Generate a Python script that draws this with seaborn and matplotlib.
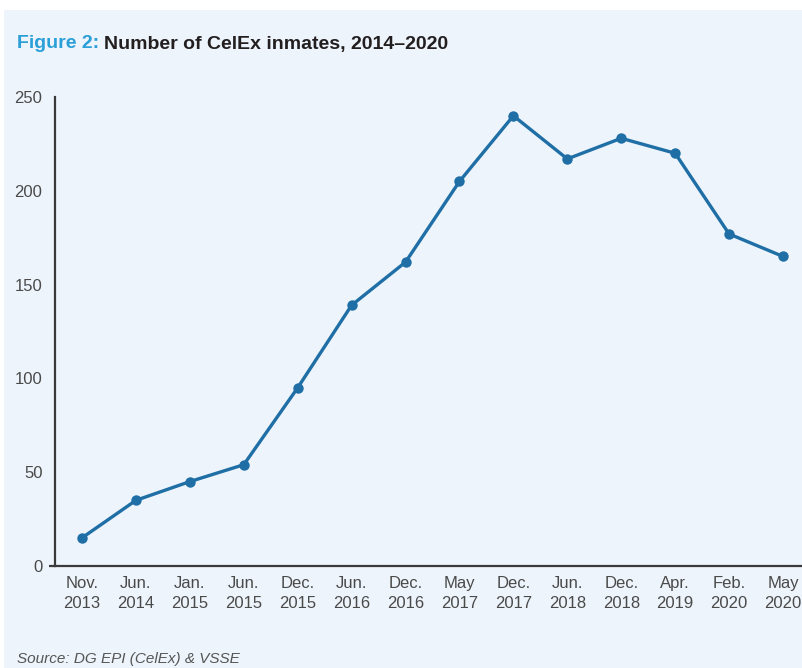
import numpy as np
import pandas as pd
import matplotlib
matplotlib.use("Agg")
import matplotlib.pyplot as plt
from matplotlib.patches import Rectangle
import seaborn as sns

months = ["Nov.", "Jun.", "Jan.", "Jun.", "Dec.", "Jun.", "Dec.", "May", "Dec.", "Jun.", "Dec.", "Apr.", "Feb.", "May"]
years = ["2013", "2014", "2015", "2015", "2015", "2016", "2016", "2017", "2017", "2018", "2018", "2019", "2020", "2020"]
inmates = [15, 35, 45, 54, 95, 139, 162, 205, 240, 217, 228, 220, 177, 165]
yticks = [0, 50, 100, 150, 200, 250]

labels = [f"{m}\n{y}" for m, y in zip(months, years)]
df = pd.DataFrame({"pos": np.arange(len(inmates)), "label": labels, "inmates": inmates})

sns.set_theme(style="white")
plt.rcParams["font.family"] = ["Liberation Sans", "DejaVu Sans"]

BG = "#edf4fb"
LINE = "#1f6fa6"
TXT = "#4a4a4a"

fig = plt.figure(figsize=(8.03, 6.68), dpi=100)
fig.patch.set_facecolor("white")
fig.add_artist(Rectangle((4 / 803, 0), 1, 1 - 10 / 668, transform=fig.transFigure,
                         facecolor=BG, edgecolor="none", zorder=-10))

ax_w = 1 - 55 / 803
ax = fig.add_axes([55 / 803, 1 - 566 / 668, ax_w, (566 - 97) / 668])
ax.set_facecolor("none")
sns.lineplot(data=df, x="pos", y="inmates", ax=ax, color=LINE, linewidth=2.4,
             marker="o", markersize=7.5, markeredgewidth=0, clip_on=False)

step = (783 - 82) / 13
ax.set_xlim(-27 / step, 13 + 20 / step)
ax.set_ylim(0, 250)
ax.set_xticks(df["pos"])
ax.set_xticklabels(df["label"], fontsize=12, color=TXT, linespacing=1.45)
ax.set_yticks(yticks)
ax.set_yticklabels([str(v) for v in yticks], fontsize=12, color=TXT)
ax.tick_params(axis="x", length=0, pad=7)
ax.tick_params(axis="y", length=0, pad=9)
ax.set_xlabel("")
ax.set_ylabel("")
for s in ["top", "right"]:
    ax.spines[s].set_visible(False)
for s in ["left", "bottom"]:
    ax.spines[s].set_color("#3a3a3a")
    ax.spines[s].set_linewidth(1.6)
# small tick at zero on y axis
ax.plot([-6 / (ax_w * 803), 0], [0, 0], transform=ax.transAxes, color="#3a3a3a", lw=1.6,
        clip_on=False, solid_capstyle="butt")

# title
t1 = fig.text(17 / 803, 1 - 44 / 668, "Figure 2:", fontsize=14, fontweight="bold",
              color="#2a9fd8", va="center", ha="left")
fig.canvas.draw()
bb = t1.get_window_extent()
fig.text((bb.x1 + 5) / 803, 1 - 44 / 668, "Number of CelEx inmates, 2014\u20132020", fontsize=14,
         fontweight="bold", color="#231f20", va="center", ha="left")

fig.text(17 / 803, 1 - 659 / 668, "Source: DG EPI (CelEx) & VSSE", fontsize=11,
         style="italic", color="#555555", va="center", ha="left")

fig.savefig("out.png", dpi=100, facecolor=fig.get_facecolor())
